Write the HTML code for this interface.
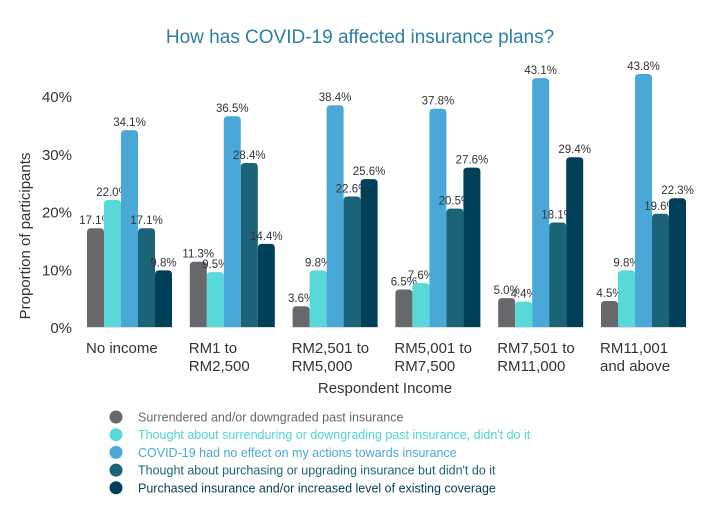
<!DOCTYPE html>
<html><head><meta charset="utf-8"><style>
body{margin:0;background:#fff;width:701px;height:510px;overflow:hidden;font-family:"Liberation Sans",sans-serif;}
</style></head><body>
<svg width="701" height="510" font-family="Liberation Sans, sans-serif">
<text x="360" y="43" text-anchor="middle" font-size="19" fill="#2a7fa3">How has COVID-19 affected insurance plans?</text>
<text transform="translate(30,236) rotate(-90)" text-anchor="middle" font-size="15" fill="#333">Proportion of participants</text>
<text x="385" y="393" text-anchor="middle" font-size="15" fill="#333">Respondent Income</text>
<g id="axes"></g><g id="bars"></g><g id="legend"></g>
</svg>
<script>
const categories=[["No income",""],["RM1 to","RM2,500"],["RM2,501 to","RM5,000"],["RM5,001 to","RM7,500"],["RM7,501 to","RM11,000"],["RM11,001","and above"]];
const seriesNames=["Surrendered and/or downgraded past insurance","Thought about surrenduring or downgrading past insurance, didn't do it","COVID-19 had no effect on my actions towards insurance","Thought about purchasing or upgrading insurance but didn't do it","Purchased insurance and/or increased level of existing coverage"];
const s1=[17.1,11.3,3.6,6.5,5.0,4.5];
const s2=[22.0,9.5,9.8,7.6,4.4,9.8];
const s3=[34.1,36.5,38.4,37.8,43.1,43.8];
const s4=[17.1,28.4,22.6,20.5,18.1,19.6];
const s5=[9.8,14.4,25.6,27.6,29.4,22.3];
const yTicks=[0,10,20,30,40];
const series=[s1,s2,s3,s4,s5];
const colors=["#67686c","#58d8d9","#4aa8d8","#1b6478","#003f58"];
const legendColors=["#67686c","#58d8d9","#4aa8d8","#1b6478","#003f58"];
const textColors=["#67686c","#4fd3d4","#4aa8d8","#1b6478","#003f58"];
const NS="http://www.w3.org/2000/svg";
function y(v){return 327-v*5.775;}
function gx(i){return 87+i*102.8;}
const BW=17;
function mk(tag,attrs,parent){const e=document.createElementNS(NS,tag);for(const k in attrs)e.setAttribute(k,attrs[k]);parent.appendChild(e);return e;}
const axes=document.getElementById('axes'),bars=document.getElementById('bars'),legend=document.getElementById('legend');
yTicks.forEach(t=>{const e=mk('text',{x:72,y:y(t)+6,'text-anchor':'end','font-size':15,fill:'#333'},axes);e.textContent=t+'%';

});
categories.forEach((c,i)=>{const e=mk('text',{x:gx(i)-1,y:353,'font-size':15,fill:'#333'},axes);


mk('tspan',{x:gx(i)-1},e).textContent=c[0];
if(c[1]){const t=mk('tspan',{x:gx(i)-1,dy:18},e);t.textContent=c[1];}
const l=mk('line',{x1:gx(i),x2:gx(i)+5*BW,y1:327.5,y2:327.5,stroke:'#ddd','stroke-width':1},axes);

});
series.forEach((s,k)=>{s.forEach((v,i)=>{const x=gx(i)+k*BW,top=y(v),h=327-top,r=Math.min(4,h);
const p=mk('path',{d:`M${x},327 V${top+r} Q${x},${top} ${x+r},${top} H${x+BW-r} Q${x+BW},${top} ${x+BW},${top+r} V327 Z`,fill:colors[k]},bars);


const t=mk('text',{x:x+BW/2,y:top-4,'text-anchor':'middle','font-size':11.5,fill:'#333'},bars);t.textContent=v.toFixed(1)+'%';

});});
seriesNames.forEach((n,k)=>{const cy=417+k*17.7;
const c=mk('circle',{cx:116,cy:cy,r:6.5,fill:legendColors[k]},legend);


const t=mk('text',{x:138,y:cy+4.5,'font-size':12.5,fill:textColors[k]},legend);t.textContent=n;

});
</script>
</body></html>
